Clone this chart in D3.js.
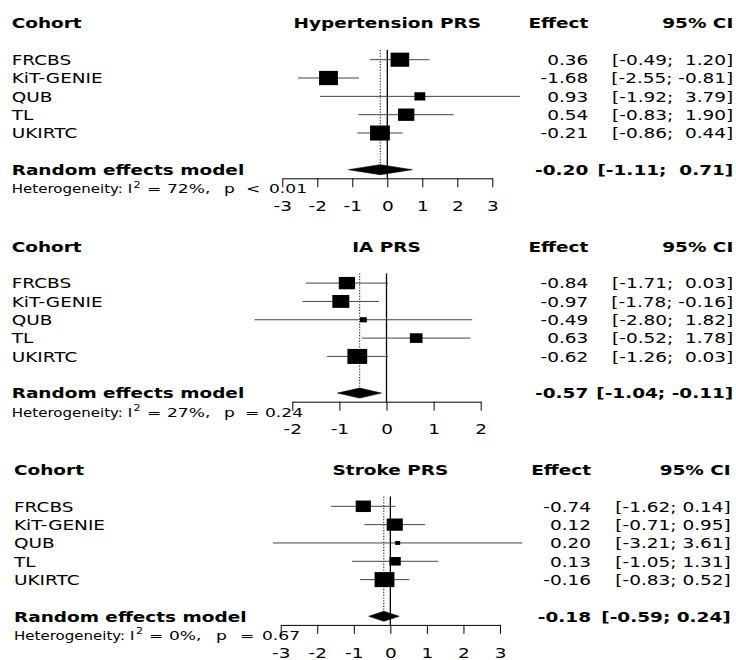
<!DOCTYPE html>
<html>
<head>
<meta charset="utf-8">
<script src="https://cdn.jsdelivr.net/npm/d3@7"></script>
<style>
  html, body { margin: 0; padding: 0; background: #fff; }
  svg text { font-family: "DejaVu Sans", sans-serif; white-space: pre; }
</style>
</head>
<body>
<svg id="chart" width="736" height="660"></svg>
<script>
const cohorts = ['FRCBS', 'KiT-GENIE', 'QUB', 'TL', 'UKIRTC'];
const panelTitles = ['Hypertension PRS', 'IA PRS', 'Stroke PRS'];

const hyperEffect = [0.36, -1.68, 0.93, 0.54, -0.21];
const hyperLower = [-0.49, -2.55, -1.92, -0.83, -0.86];
const hyperUpper = [1.20, -0.81, 3.79, 1.90, 0.44];
const hyperWeight = [23.5, 24, 8, 18, 26.5];
const hyperPooled = [-0.20, -1.11, 0.71];
const hyperHet = ['72%', '<', '0.01'];
const hyperTicks = [-3, -2, -1, 0, 1, 2, 3];

const iaEffect = [-0.84, -0.97, -0.49, 0.63, -0.62];
const iaLower = [-1.71, -1.78, -2.80, -0.52, -1.26];
const iaUpper = [0.03, -0.16, 1.82, 1.78, 0.03];
const iaWeight = [23, 25, 4, 14, 34];
const iaPooled = [-0.57, -1.04, -0.11];
const iaHet = ['27%', '=', '0.24'];
const iaTicks = [-2, -1, 0, 1, 2];

const strokeEffect = [-0.74, 0.12, 0.20, 0.13, -0.16];
const strokeLower = [-1.62, -0.71, -3.21, -1.05, -0.83];
const strokeUpper = [0.14, 0.95, 3.61, 1.31, 0.52];
const strokeWeight = [22.5, 25.3, 2.5, 12.5, 38.2];
const strokePooled = [-0.18, -0.59, 0.24];
const strokeHet = ['0%', '=', '0.67'];
const strokeTicks = [-3, -2, -1, 0, 1, 2, 3];

// glyphs in the picture are wider than they are tall
const SX = 1.32;
const TAIL_SX = 1.5;
const FONT_SIZE = 14;
const SMALL_SIZE = 11.4;

const panels = [
    { title: panelTitles[0], effect: hyperEffect, lower: hyperLower, upper: hyperUpper, weight: hyperWeight,
      pooled: hyperPooled, het: hyperHet, ticks: hyperTicks,
      top: 0, x0: 282.3, x1: 492.3, left: 11.7, effX: 588.3, ciX: 733.3,
      hetX: { eq: 147, i2: 167, p: 224, op: 246, val: 269 } },
    { title: panelTitles[1], effect: iaEffect, lower: iaLower, upper: iaUpper, weight: iaWeight,
      pooled: iaPooled, het: iaHet, ticks: iaTicks,
      top: 223.4, x0: 292.3, x1: 480.7, left: 11.7, effX: 588.3, ciX: 733.3,
      hetX: { eq: 147, i2: 167, p: 224, op: 245, val: 265 } },
    { title: panelTitles[2], effect: strokeEffect, lower: strokeLower, upper: strokeUpper, weight: strokeWeight,
      pooled: strokePooled, het: strokeHet, ticks: strokeTicks,
      top: 446.6, x0: 280.7, x1: 500, left: 14, effX: 591, ciX: 730.7,
      hetX: { eq: 149, i2: 169, p: 216, op: 240, val: 262 } }
];

const svg = d3.select('#chart');

function addText(g, x, y, str, opts = {}) {
    return g.append('text')
        .attr('transform', `translate(${x},${y}) scale(${opts.sx ?? SX},1)`)
        .attr('text-anchor', opts.anchor ?? 'start')
        .attr('font-size', opts.size ?? FONT_SIZE)
        .attr('font-weight', opts.bold ? 'bold' : null)
        .attr('fill', '#000')
        .text(str);
}

function padColumn(values) {
    const strs = values.map(v => v.toFixed(2));
    const width = d3.max(strs, s => s.length);
    return strs.map(s => s.padStart(width, ' '));
}

function drawHeterogeneity(g, p, baseY) {
    const tail = { size: SMALL_SIZE, sx: TAIL_SX };
    const head = addText(g, p.left, baseY, 'Heterogeneity: I', { size: SMALL_SIZE });
    const headEnd = p.left + head.node().getComputedTextLength() * SX;
    addText(g, headEnd + 1.5, baseY - 5.5, '2', { size: 8.5 });
    addText(g, Math.max(p.hetX.eq, headEnd + 10), baseY, '=', tail);
    addText(g, p.hetX.i2, baseY, p.het[0] + ',', tail);
    addText(g, p.hetX.p, baseY, 'p', tail);
    addText(g, p.hetX.op, baseY, p.het[1], tail);
    addText(g, p.hetX.val, baseY, p.het[2], tail);
}

function drawPanel(p) {
    const g = svg.append('g').attr('transform', `translate(0,${p.top})`);
    const x = d3.scaleLinear().domain(d3.extent(p.ticks)).range([p.x0, p.x1]);
    const y = d3.scaleLinear().domain([0, 1]).range([59.7, 78.03]);
    const side = d3.scaleSqrt().domain([0, d3.max(p.weight)]).range([0, 15]);
    const rows = d3.range(cohorts.length);
    const sumRow = cohorts.length + 1;
    const axisY = 178.3;
    const lineTop = y(0) - 9.7;

    // header
    addText(g, p.left, 28.3, 'Cohort', { bold: true });
    addText(g, (p.x0 + p.x1) / 2, 28.3, p.title, { bold: true, anchor: 'middle' });
    addText(g, p.effX, 28.3, 'Effect', { bold: true, anchor: 'end' });
    addText(g, p.ciX, 28.3, '95% CI', { bold: true, anchor: 'end' });

    // reference lines
    g.append('line')
        .attr('x1', x(0)).attr('x2', x(0))
        .attr('y1', lineTop).attr('y2', axisY)
        .attr('stroke', '#000').attr('stroke-width', 1.3);
    g.append('line')
        .attr('x1', x(p.pooled[0])).attr('x2', x(p.pooled[0]))
        .attr('y1', lineTop).attr('y2', y(sumRow) + 5)
        .attr('stroke', '#222').attr('stroke-width', 1.1)
        .attr('stroke-dasharray', '1.2,1.6');

    // study rows
    const lowS = padColumn(p.lower.concat([p.pooled[1]]));
    const upS = padColumn(p.upper.concat([p.pooled[2]]));
    rows.forEach(i => {
        const cy = y(i);
        g.append('line')
            .attr('x1', x(p.lower[i])).attr('x2', x(p.upper[i]))
            .attr('y1', cy).attr('y2', cy)
            .attr('stroke', '#444').attr('stroke-width', 1);
        const h = side(p.weight[i]);
        const w = h * SX;
        g.append('rect')
            .attr('x', x(p.effect[i]) - w / 2).attr('y', cy - h / 2)
            .attr('width', w).attr('height', h)
            .attr('fill', '#000');

        addText(g, p.left, cy + 5.3, cohorts[i]);
        addText(g, p.effX, cy + 5.3, p.effect[i].toFixed(2), { anchor: 'end' });
        addText(g, p.ciX, cy + 5.3, `[${lowS[i]}; ${upS[i]}]`, { anchor: 'end' });
    });

    // pooled estimate
    const sy = y(sumRow);
    const diamond = [
        [x(p.pooled[1]), sy], [x(p.pooled[0]), sy - 5],
        [x(p.pooled[2]), sy], [x(p.pooled[0]), sy + 5]
    ];
    g.append('polygon')
        .attr('points', diamond.map(d => d.join(',')).join(' '))
        .attr('fill', '#000').attr('stroke', '#000').attr('stroke-width', 0.6);
    addText(g, p.left, sy + 5.3, 'Random effects model', { bold: true });
    addText(g, p.effX, sy + 5.3, p.pooled[0].toFixed(2), { bold: true, anchor: 'end' });
    addText(g, p.ciX, sy + 5.3, `[${lowS[5]}; ${upS[5]}]`, { bold: true, anchor: 'end' });

    drawHeterogeneity(g, p, 193.3);

    // axis
    const axis = g.append('g')
        .attr('transform', `translate(0,${axisY})`)
        .call(d3.axisBottom(x).tickValues(p.ticks).tickSize(9).tickSizeOuter(0).tickFormat(d3.format('d')));
    axis.select('.domain').attr('stroke', '#000').attr('stroke-width', 1);
    axis.selectAll('.tick line').attr('stroke', '#000').attr('stroke-width', 1);
    axis.selectAll('.tick text')
        .attr('y', 32.8).attr('dy', null)
        .attr('transform', `scale(${SX},1)`)
        .attr('font-family', '"DejaVu Sans", sans-serif')
        .attr('font-size', FONT_SIZE)
        .attr('fill', '#000')
        .text(d => d < 0 ? '-' + Math.abs(d) : String(d));
}

panels.forEach(drawPanel);
</script>
</body>
</html>
